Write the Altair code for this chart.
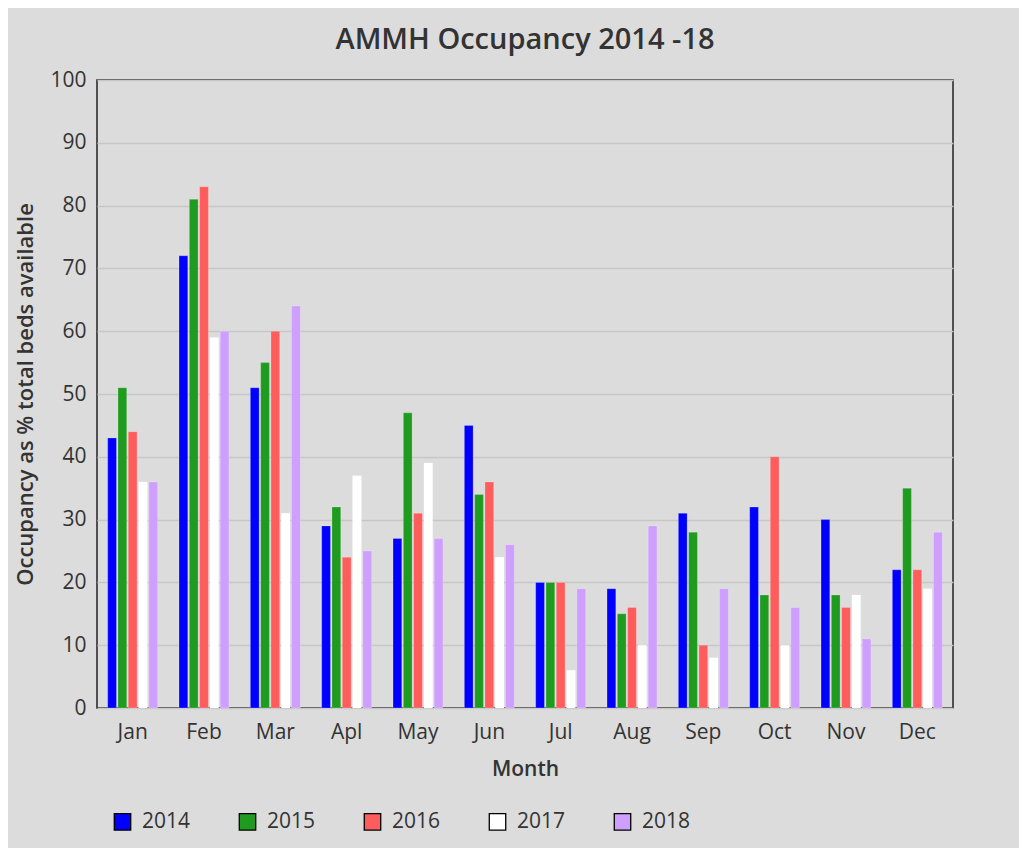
import altair as alt
import pandas as pd

months = ["Jan", "Feb", "Mar", "Apl", "May", "Jun", "Jul", "Aug", "Sep", "Oct", "Nov", "Dec"]
years = ["2014", "2015", "2016", "2017", "2018"]
v2014 = [43, 72, 51, 29, 27, 45, 20, 19, 31, 32, 30, 22]
v2015 = [51, 81, 55, 32, 47, 34, 20, 15, 28, 18, 18, 35]
v2016 = [44, 83, 60, 24, 31, 36, 20, 16, 10, 40, 16, 22]
v2017 = [36, 59, 31, 37, 39, 24, 6, 10, 8, 10, 18, 19]
v2018 = [36, 60, 64, 25, 27, 26, 19, 29, 19, 16, 11, 28]
colors = ["#0000ff", "#1f9b1f", "#ff5c5c", "#ffffff", "#cf9fff"]

series = [v2014, v2015, v2016, v2017, v2018]
rows = []
for y, vals in zip(years, series):
    for m, v in zip(months, vals):
        rows.append({"Month": m, "Year": y, "Value": v})
df = pd.DataFrame(rows)

FONT = "Open Sans"
TXT = "#333333"

chart = alt.Chart(df).mark_bar(strokeWidth=0.6, stroke="#ffffff", strokeOpacity=0.35).encode(
    x=alt.X("Month:N", sort=months,
            scale=alt.Scale(paddingInner=0.3, paddingOuter=0.15),
            axis=alt.Axis(title="Month", labelAngle=0, labelPadding=13, ticks=False, domain=False,
                          labelFontSize=21, labelColor=TXT, labelFont=FONT,
                          titleFont=FONT, titleFontSize=21, titleColor=TXT, titleFontWeight=600,
                          titlePadding=16)),
    xOffset=alt.XOffset("Year:N", sort=years, scale=alt.Scale(paddingInner=0.15, paddingOuter=0)),
    y=alt.Y("Value:Q", scale=alt.Scale(domain=[0, 100], nice=False),
            axis=alt.Axis(title="Occupancy as % total beds available", values=list(range(0, 101, 10)),
                          ticks=False, domain=False, labelPadding=11,
                          labelFontSize=21, labelColor=TXT, labelFont=FONT,
                          gridColor="#c6c6c6", gridWidth=1.5,
                          titleFont=FONT, titleFontSize=22, titleColor=TXT, titleFontWeight=600,
                          titlePadding=12)),
    color=alt.Color("Year:N", sort=years, scale=alt.Scale(domain=years, range=colors),
                    legend=alt.Legend(title=None, orient="none", direction="horizontal",
                                      legendX=15, legendY=731, padding=0,
                                      symbolType="square", symbolSize=270,
                                      symbolStrokeColor="#000000", symbolStrokeWidth=1.3,
                                      symbolOpacity=1,
                                      labelFont=FONT, labelFontSize=21, labelColor=TXT,
                                      labelOffset=9, columnPadding=45)),
).properties(
    width=856,
    height=628,
    title=alt.TitleParams("AMMH Occupancy 2014 -18", font=FONT, fontSize=29, fontWeight=600,
                          color=TXT, anchor="middle", offset=14),
    background="#dcdcdc",
    padding={"left": 89, "top": 72, "right": 66, "bottom": 140},
    autosize=alt.AutoSizeParams(type="none"),
).configure_view(
    stroke="#222222", strokeWidth=1.5
)

chart.save("out.html", embed_options={"renderer": "svg", "actions": False})
